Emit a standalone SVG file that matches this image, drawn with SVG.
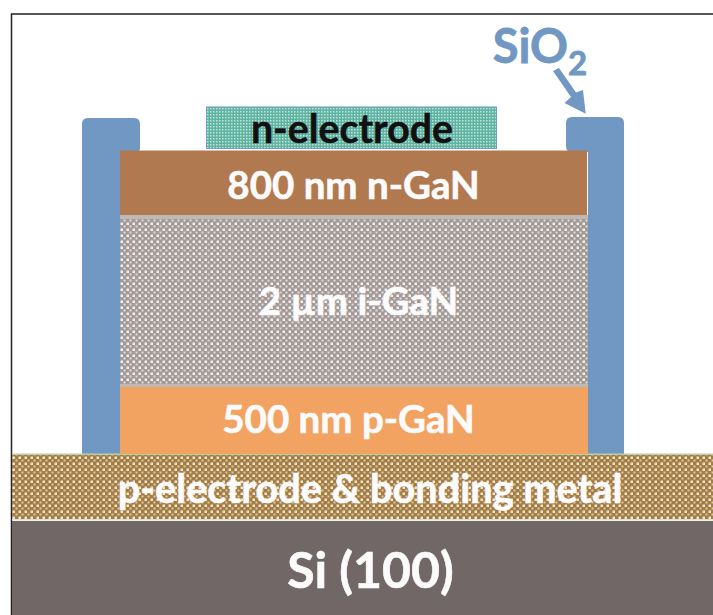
<svg xmlns="http://www.w3.org/2000/svg" width="713" height="615" viewBox="0 0 713 615">
<style>
text{font-family:Lato,"Liberation Sans",sans-serif;font-weight:700;text-anchor:middle}
.w{fill:#fbfbfb;stroke:#fbfbfb;stroke-width:.6}
.s{fill:#7098c2}
</style>
<defs>
<pattern id="pGrey" width="6" height="6" patternUnits="userSpaceOnUse">
<rect width="6" height="6" fill="#a39a98"/>
<rect x="0.500" y="0.500" width="2.500" height="2.500" fill="#f2efed"/>
<rect x="3.500" y="3.500" width="2" height="2" fill="#e2dedc"/>
</pattern>
<pattern id="pGold" width="6" height="6" patternUnits="userSpaceOnUse">
<rect width="6" height="6" fill="#a47d44"/>
<rect x="0.500" y="0.500" width="2.500" height="2.500" fill="#efe6d2"/>
<rect x="3.500" y="3.500" width="2" height="2" fill="#dccbaa"/>
</pattern>
<pattern id="pTeal" width="3" height="3" patternUnits="userSpaceOnUse">
<rect width="3" height="3" fill="#5fb3a2"/>
<rect x="0" y="0" width="1.500" height="1.500" fill="#bfe2d9"/>
</pattern>
</defs>
<rect width="713" height="615" fill="#fff"/>
<path d="M11.500 615V14H713" fill="none" stroke="#222" stroke-width="1.500"/>
<g id="si">
<rect x="12" y="521" width="701" height="94" fill="#706766"/>
<text class="w" x="370.500" y="588" font-size="50">Si (100)</text>
</g>
<g id="sio2-left">
<path class="s" d="M88 118H134Q140 118 140 124V148Q140 153.500 134 153.500H120V454H82V124Q82 118 88 118Z"/>
</g>
<g id="sio2-right">
<path class="s" d="M572 117H618Q624 117 624 123V454H588V152H572Q566 152 566 146V123Q566 117 572 117Z"/>
</g>
<g id="p-electrode">
<rect x="12" y="454" width="701" height="66" fill="url(#pGold)"/>
<rect x="12" y="453.500" width="701" height="1.500" fill="#b7cfa8"/>
<rect x="12" y="519" width="701" height="1.500" fill="#d9e5d0"/>
<text class="w" x="370" y="503" font-size="39.700">p-electrode &amp; bonding metal</text>
</g>
<g id="p-gan">
<rect x="120" y="387" width="468" height="67" fill="#f3a361"/>
<text class="w" x="348.500" y="433" font-size="38.500">500 nm p-GaN</text>
</g>
<g id="i-gan">
<rect x="120" y="215" width="468" height="172" fill="#c0b8b5"/>
<rect x="120" y="219" width="468" height="165" fill="url(#pGrey)"/>
<text class="w" x="358.500" y="315" font-size="38.500">2 µm i-GaN</text>
</g>
<g id="n-gan">
<rect x="120" y="150.500" width="467" height="64.500" fill="#b07950"/>
<text class="w" x="353.500" y="199" font-size="38.500">800 nm n-GaN</text>
</g>
<g id="n-electrode">
<rect x="206.500" y="107" width="290" height="41.500" fill="url(#pTeal)" stroke="#6f9ccb" stroke-width="1"/>
<text x="352" y="142.500" font-size="39.300" fill="#111" stroke="#111" stroke-width=".5">n-electrode</text>
</g>
<g id="sio2-label">
<text class="s" x="540" y="63" font-size="47" stroke="#7098c2" stroke-width=".8">SiO<tspan font-size="33" dy="12">2</tspan></text>
</g>
<g id="connectors">
<path class="s" d="M553 71L559 68L576 92.500L583 90L585.700 113.700L564.500 103L571 97Z"/>
</g>
</svg>
